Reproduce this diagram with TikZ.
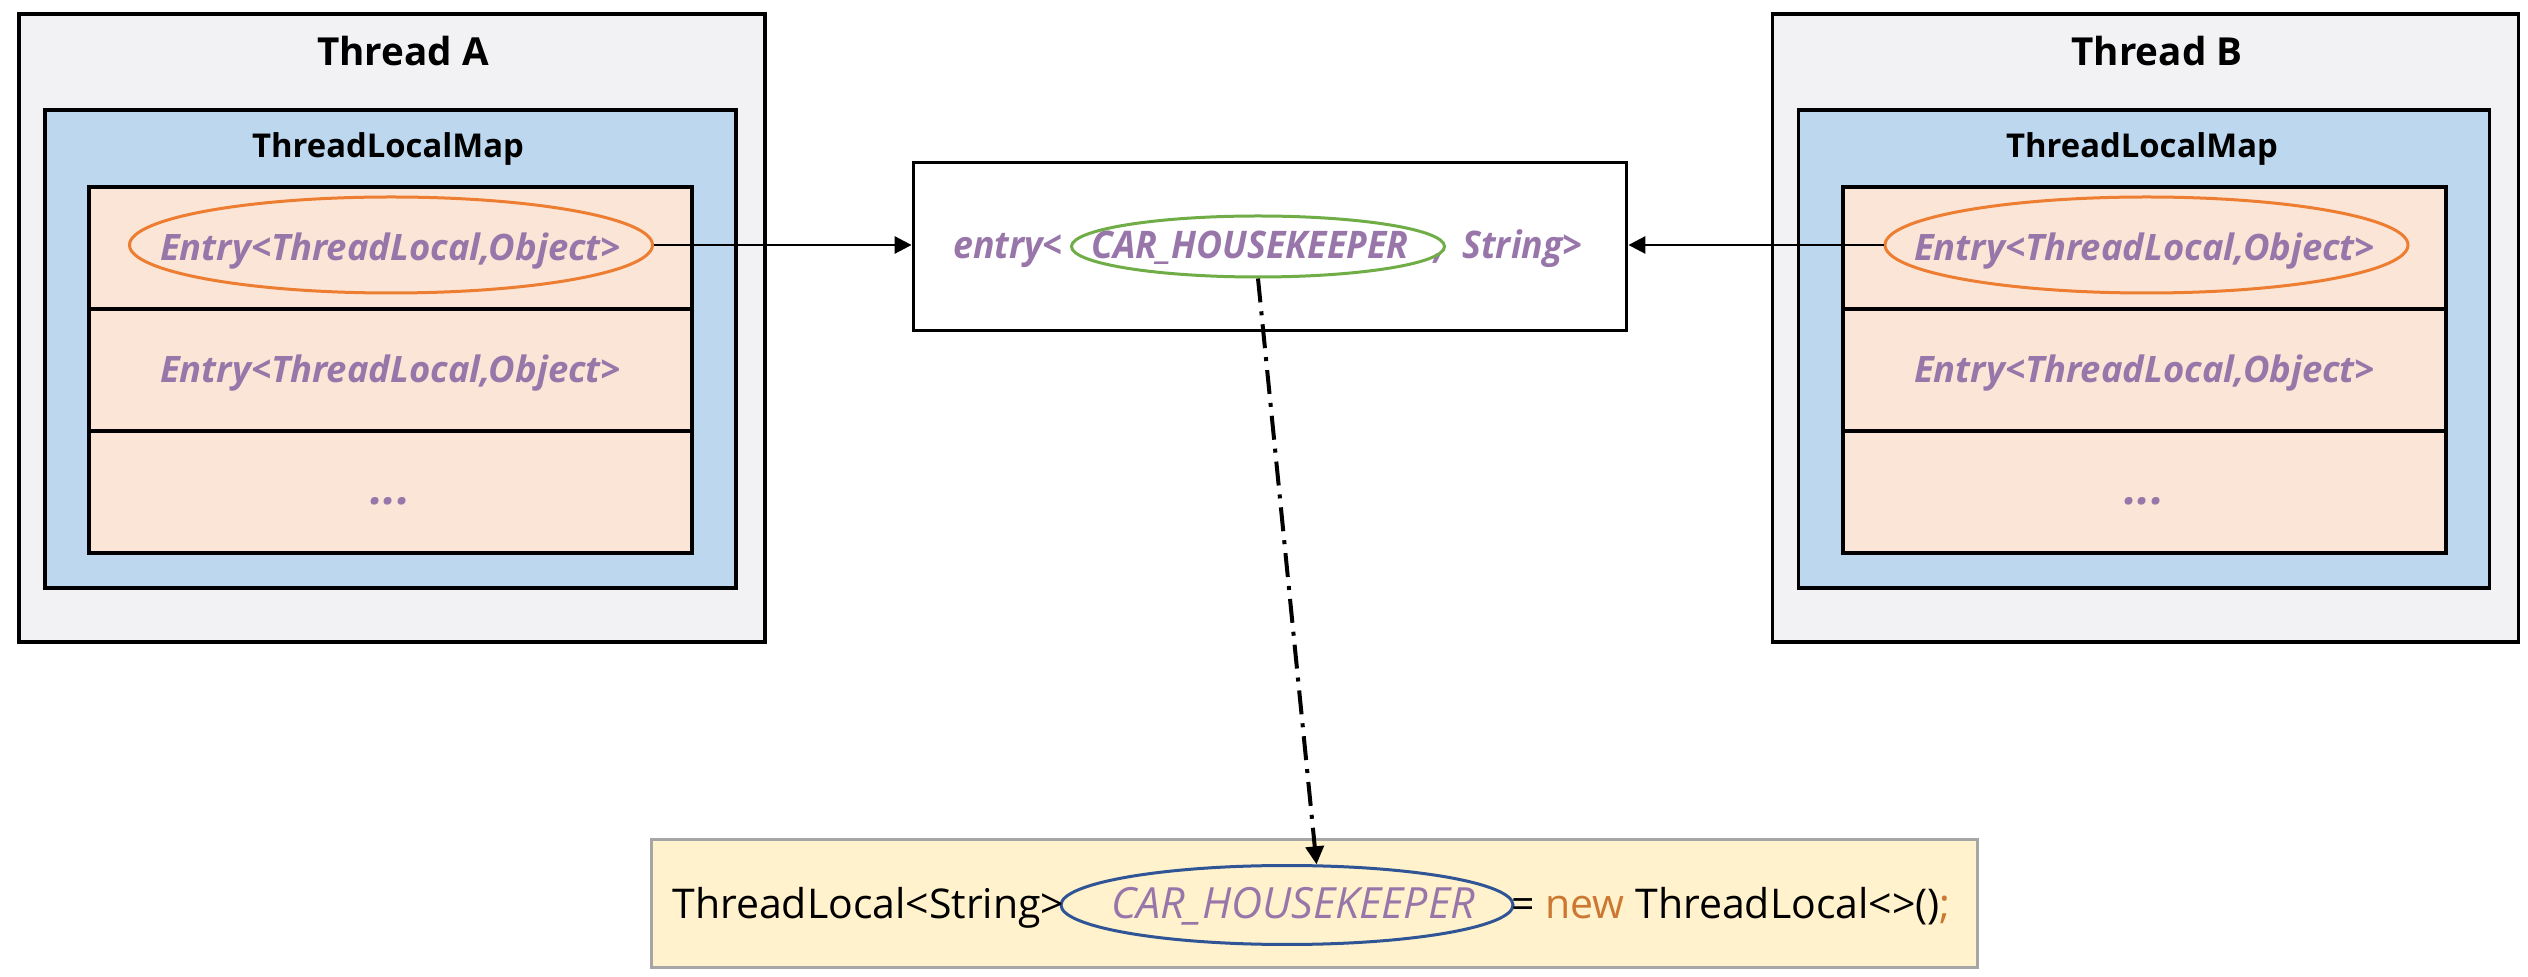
\documentclass[tikz,border=0pt]{standalone}
\usepackage{fontspec}
\setmainfont{Open Sans}
\newfontfamily\midfont{Open Sans}[FakeStretch=0.94]
\usetikzlibrary{shapes.geometric,arrows.meta,calc}
\definecolor{thgray}{HTML}{F2F2F4}
\definecolor{mapblue}{HTML}{BDD7EE}
\definecolor{rowpeach}{HTML}{FBE5D6}
\definecolor{codeyellow}{HTML}{FFF2CC}
\definecolor{codeborder}{HTML}{A6A6A6}
\definecolor{purpletxt}{HTML}{9876AA}
\definecolor{orangeell}{HTML}{ED7D31}
\definecolor{greenell}{HTML}{70AD47}
\definecolor{blueell}{HTML}{2F5597}
\definecolor{kwcolor}{HTML}{CC7832}
\begin{document}
\begin{tikzpicture}[x=0.5pt,y=-0.5pt,
  threadbox/.style={draw=black, line width=1.9pt, fill=thgray, inner sep=0pt, minimum width=373pt, minimum height=314pt},
  mapbox/.style={draw=black, line width=1.9pt, fill=mapblue, inner sep=0pt, minimum width=345.5pt, minimum height=239pt},
  rowbox/.style={draw=black, line width=1.9pt, fill=rowpeach, inner sep=0pt, minimum width=301.5pt, minimum height=61pt,
    text=purpletxt, font=\fontsize{18.2}{21}\selectfont\bfseries\itshape, text height=15.5pt, text depth=3pt},
  dotsfont/.style={font=\fontsize{23}{26}\selectfont\bfseries\itshape},
  entryell/.style={ellipse, draw=orangeell, line width=1.5pt, inner sep=0pt, minimum width=261.5pt, minimum height=48pt},
  titlelbl/.style={font=\fontsize{19.3}{23}\selectfont\bfseries, inner sep=0pt},
  maplbl/.style={font=\fontsize{16.4}{19}\selectfont\bfseries, inner sep=0pt},
  midbox/.style={draw=black, line width=1.9pt, fill=white, inner sep=0pt, minimum width=356.5pt, minimum height=84pt},
  midtxt/.style={text=purpletxt, font=\midfont\fontsize{19}{22}\selectfont\bfseries\itshape, inner sep=0pt},
  greenring/.style={ellipse, draw=greenell, line width=1.5pt, inner sep=0pt, minimum width=186.5pt, minimum height=30.5pt},
  codebox/.style={draw=codeborder, line width=1.5pt, fill=codeyellow, inner sep=0pt, minimum width=663pt, minimum height=63.5pt},
  bluering/.style={ellipse, draw=blueell, line width=1.5pt, inner sep=0pt, minimum width=226pt, minimum height=39.5pt},
  codetxt/.style={font=\fontsize{20.5}{24}\selectfont, inner sep=0pt},
  conn/.style={line width=1.4pt, -{Triangle[length=8.5pt,width=8.5pt]}},
  dashdotconn/.style={line width=2pt, dash pattern=on 12pt off 4.5pt on 2pt off 4.5pt, -{Triangle[length=9pt,width=9pt]}}
]
\useasboundingbox (0,0) rectangle (2528,977);
\fill[white] (0,0) rectangle (2528,977);

% ---------- Thread A ----------
\node[threadbox] (thA) at (392,328) {};
\node[titlelbl] (thAlbl) at (403,51) {Thread A};
\node[mapbox] (mapA) at (390.5,349) {};
\node[maplbl] (mapAlbl) at (388,149) {ThreadLocalMap};
\node[rowbox] (a1) at (390.5,248) {Entry<ThreadLocal,Object>};
\node[rowbox] (a2) at (390.5,370) {Entry<ThreadLocal,Object>};
\node[rowbox, dotsfont] (a3) at (390.5,492) {...};
\node[entryell] (ea) at (391,245) {};

% ---------- Thread B ----------
\node[threadbox] (thB) at (2145.5,328) {};
\node[titlelbl] (thBlbl) at (2157,51) {Thread B};
\node[mapbox] (mapB) at (2144,349) {};
\node[maplbl] (mapBlbl) at (2142,149) {ThreadLocalMap};
\node[rowbox] (b1) at (2144.5,248) {Entry<ThreadLocal,Object>};
\node[rowbox] (b2) at (2144.5,370) {Entry<ThreadLocal,Object>};
\node[rowbox, dotsfont] (b3) at (2144.5,492) {...};
\node[entryell] (eb) at (2146.5,245) {};

% ---------- middle entry ----------
\node[midbox] (mid) at (1270,246.5) {};
\node[midtxt, anchor=base east] (mtA) at (1063,259) {entry<};
\node[midtxt, anchor=base west] (mtB) at (1091,259) {CAR\_HOUSEKEEPER};
\node[midtxt, anchor=base] (mtC) at (1439,259) {,};
\node[midtxt, anchor=base west] (mtD) at (1462,259) {String>};
\node[greenring] (gell) at (1258,246.5) {};

% ---------- code line ----------
\node[codebox] (code) at (1314,903.5) {};
\node[bluering] (bell) at (1287,905) {};
\node[codetxt, anchor=base west] (c1) at (672,919) {ThreadLocal<String>};
\node[codetxt, anchor=base, text=purpletxt, font=\fontsize{21.5}{25}\selectfont\itshape] (c2) at (1293,919) {CAR\_HOUSEKEEPER};
\node[codetxt, anchor=base west] (c3) at (1511,919) {= \textcolor{kwcolor}{new} ThreadLocal<>()\textcolor{kwcolor}{;}};

% ---------- connectors ----------
\draw[conn] (ea.east) -- (ea.east -| mid.west);
\draw[conn] (eb.west) -- (eb.west -| mid.east);
\draw[dashdotconn] (gell.south) -- (bell.54);
\end{tikzpicture}
\end{document}
